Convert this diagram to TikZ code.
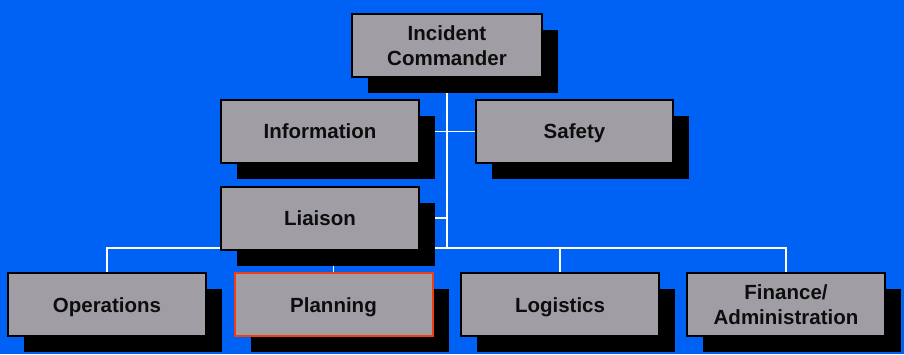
\documentclass[tikz,border=0pt]{standalone}
\usepackage{fontspec}
\setmainfont{Liberation Sans}
\usetikzlibrary{shadows,backgrounds}
\definecolor{bgblue}{RGB}{0,98,244}
\definecolor{boxgray}{RGB}{160,158,164}
\definecolor{planred}{RGB}{238,62,20}
\tikzstyle{block} = [draw=black, fill=boxgray, rectangle, line width=2pt,
    minimum height=63pt, minimum width=198pt, align=center,
    font=\fontsize{20.5}{25.5}\selectfont\bfseries, text=black!95,
    drop shadow={shadow xshift=16pt, shadow yshift=-16pt, fill=black, opacity=1}]
\tikzstyle{oneline} = [text height=15pt, text depth=0pt]
\tikzstyle{link} = [draw=white, line width=1.6pt]

\begin{document}
\begin{tikzpicture}[x=1pt, y=1pt]
    \useasboundingbox (0,0) rectangle (904,354);
    \node [block, minimum width=190pt] (commander) at (447,308.5) {Incident\\Commander};
    \node [block, oneline] (liaison) at (320,136) {Liaison};
    \node [block, oneline, above of=liaison, node distance=86.5pt] (information) {Information};
    \node [block, oneline, right of=information, node distance=254.5pt, minimum width=197pt] (safety) {Safety};
    \node [block, oneline] (operations) at (107,49.5) {Operations};
    \node [block, oneline, draw=planred, right of=operations, node distance=226.5pt] (planning) {Planning};
    \node [block, oneline, right of=planning, node distance=226.5pt] (logistics) {Logistics};
    \node [block, right of=logistics, node distance=226pt] (finance) {Finance/\\Administration};
    \coordinate (bus) at (commander.south |- 0,106);
    \begin{scope}[on background layer]
        \fill [bgblue] (0,0) rectangle (904,354);
        \draw [link] (commander.south) -- (bus);
        \foreach \n in {operations,planning,logistics,finance}
            \draw [link] (\n.north) |- (bus);
        \draw [link] (information.east) -- (safety.west);
        \draw [link] (liaison.east) -- (liaison.east -| bus);
    \end{scope}
\end{tikzpicture}
\end{document}
